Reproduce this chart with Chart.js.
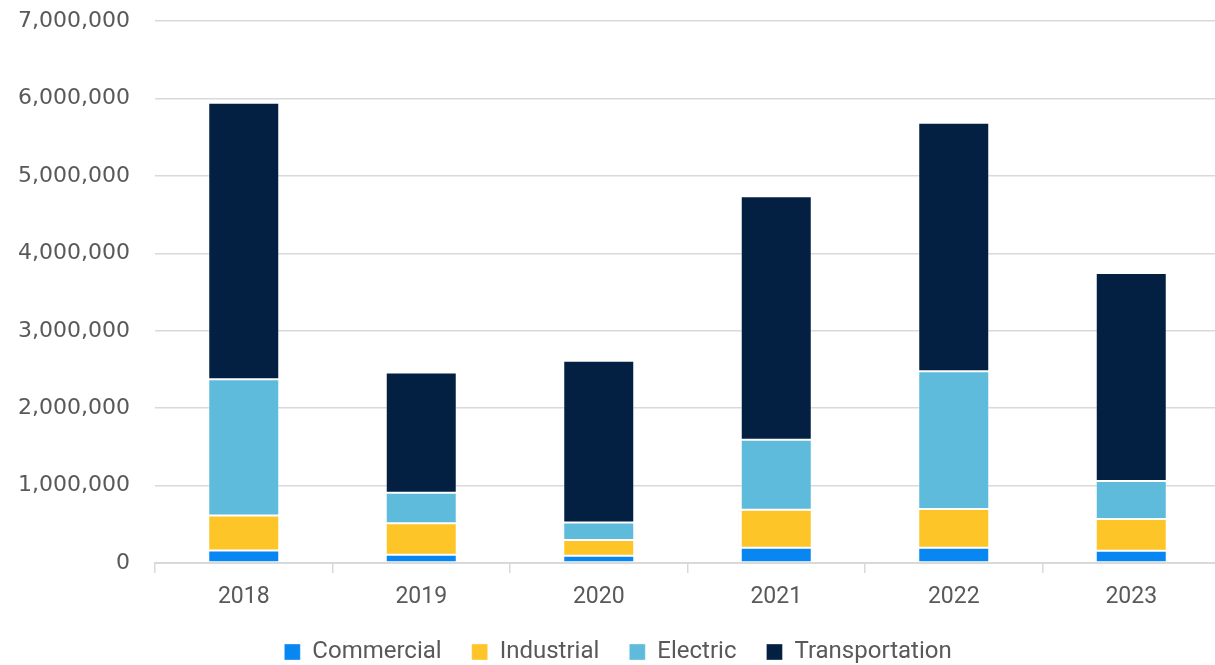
<!DOCTYPE html>
<html>
<head>
<meta charset="utf-8">
<script src="https://cdn.jsdelivr.net/npm/chart.js@4/dist/chart.umd.min.js"></script>
<style>
  html, body { margin: 0; padding: 0; background: #fff; overflow: hidden; }
  #wrap { position: relative; width: 1220px; height: 665px; }
</style>
</head>
<body>
<div id="wrap"><canvas id="sectorChart"></canvas></div>
<script>
const years = ["2018", "2019", "2020", "2021", "2022", "2023"];
const commercial = [160000, 108000, 95000, 198000, 198000, 159000];
const industrial = [453000, 406000, 203000, 489000, 501000, 411000];
const electric = [1761000, 393000, 224000, 906000, 1779000, 488000];
const transportation = [3572000, 1554000, 2091000, 3144000, 3209000, 2689000];

const TEXT = "#595959";
const GRID = "#d9d9d9";

function series(label, data, color) {
  return {
    label,
    data,
    backgroundColor: color,
    borderColor: "rgba(255,255,255,0.35)",
    borderWidth: 1,
    borderSkipped: false,
    barPercentage: 0.4,
    categoryPercentage: 1,
  };
}

new Chart(document.getElementById("sectorChart"), {
  type: "bar",
  data: {
    labels: years,
    datasets: [
      series("Commercial", commercial, "#0886f2"),
      series("Industrial", industrial, "#fec528"),
      series("Electric", electric, "#5ebbdb"),
      series("Transportation", transportation, "#031f42"),
    ],
  },
  options: {
    responsive: true,
    maintainAspectRatio: false,
    animation: false,
    layout: { padding: { left: 16, top: 0, right: 0, bottom: 0 } },
    plugins: {
      tooltip: { enabled: false },
      legend: {
        position: "bottom",
        maxHeight: 55,
        labels: {
          color: TEXT,
          font: { family: "Roboto", size: 24 },
          boxWidth: 16,
          boxHeight: 16,
          padding: 30,
        },
      },
    },
    scales: {
      x: {
        stacked: true,
        afterFit: (s) => { s.height = 47; },
        grid: {
          drawOnChartArea: false,
          drawTicks: true,
          tickLength: 10,
          color: GRID,
          lineWidth: 1.5,
        },
        border: { display: true, color: GRID, width: 2 },
        ticks: {
          color: TEXT,
          padding: 10,
          font: { family: "Roboto", size: 23 },
        },
      },
      y: {
        stacked: true,
        min: 0,
        max: 7000000,
        afterFit: (s) => { s.width = 139; },
        // invisible tick marks keep the labels 25px off the plot edge
        grid: {
          color: GRID,
          lineWidth: 1.5,
          drawTicks: true,
          tickLength: 17,
          tickColor: "rgba(0,0,0,0)",
        },
        border: { display: false },
        ticks: {
          stepSize: 1000000,
          color: TEXT,
          padding: 8,
          font: { family: "DejaVu Sans", size: 22 },
          callback: (v) => Number(v).toLocaleString("en-US"),
        },
      },
    },
  },
});
</script>
</body>
</html>
